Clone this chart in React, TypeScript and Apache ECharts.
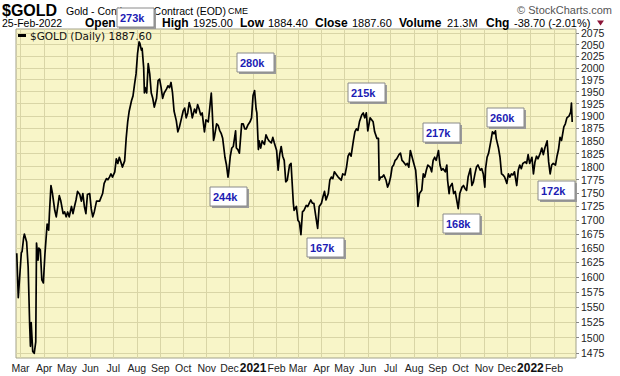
import React, { useEffect, useRef } from "react";
import * as echarts from "echarts";

// ---- data ----
const gold2020: [string, number][] = [
  ["2020-02-25", 1641], ["2020-02-27", 1565], ["2020-03-02", 1642], ["2020-03-03", 1644],
  ["2020-03-05", 1668], ["2020-03-06", 1675], ["2020-03-09", 1661], ["2020-03-11", 1617],
  ["2020-03-13", 1520], ["2020-03-14", 1486], ["2020-03-15", 1524], ["2020-03-17", 1478],
  ["2020-03-19", 1475], ["2020-03-21", 1493], ["2020-03-22", 1659], ["2020-03-24", 1629],
  ["2020-03-25", 1650], ["2020-03-27", 1647], ["2020-03-29", 1595], ["2020-03-31", 1590],
  ["2020-04-02", 1638], ["2020-04-04", 1675], ["2020-04-05", 1693], ["2020-04-07", 1682],
  ["2020-04-08", 1712], ["2020-04-10", 1764], ["2020-04-12", 1749], ["2020-04-15", 1718],
  ["2020-04-17", 1706], ["2020-04-19", 1725], ["2020-04-21", 1745], ["2020-04-23", 1735],
  ["2020-04-26", 1712], ["2020-04-28", 1715], ["2020-04-30", 1706], ["2020-05-02", 1715],
  ["2020-05-04", 1706], ["2020-05-07", 1725], ["2020-05-09", 1712], ["2020-05-11", 1725],
  ["2020-05-13", 1737], ["2020-05-15", 1753], ["2020-05-18", 1747], ["2020-05-20", 1735],
  ["2020-05-22", 1749], ["2020-05-24", 1725], ["2020-05-26", 1712], ["2020-05-28", 1747],
  ["2020-05-31", 1749], ["2020-06-02", 1721], ["2020-06-04", 1706], ["2020-06-06", 1715],
  ["2020-06-09", 1735], ["2020-06-13", 1735], ["2020-06-17", 1749], ["2020-06-19", 1768],
  ["2020-06-22", 1777], ["2020-06-24", 1775], ["2020-06-26", 1780], ["2020-06-28", 1786],
  ["2020-06-30", 1780], ["2020-07-03", 1790], ["2020-07-05", 1815], ["2020-07-07", 1806],
  ["2020-07-09", 1818], ["2020-07-11", 1809], ["2020-07-13", 1799], ["2020-07-16", 1811],
  ["2020-07-18", 1855], ["2020-07-20", 1888], ["2020-07-22", 1910], ["2020-07-25", 1931],
  ["2020-07-27", 1941], ["2020-07-29", 1965], ["2020-07-31", 1987], ["2020-08-02", 2031],
  ["2020-08-04", 2056], ["2020-08-05", 2053], ["2020-08-07", 2038], ["2020-08-08", 2042],
  ["2020-08-10", 2001], ["2020-08-11", 1947], ["2020-08-12", 1958], ["2020-08-14", 1947],
  ["2020-08-16", 2009], ["2020-08-18", 1987], ["2020-08-20", 1947], ["2020-08-22", 1936],
  ["2020-08-24", 1918], ["2020-08-27", 1936], ["2020-08-29", 1973], ["2020-08-31", 1976],
  ["2020-09-02", 1958], ["2020-09-04", 1936], ["2020-09-06", 1947], ["2020-09-09", 1955],
  ["2020-09-11", 1962], ["2020-09-13", 1958], ["2020-09-15", 1969], ["2020-09-17", 1947],
  ["2020-09-19", 1910], ["2020-09-22", 1890], ["2020-09-24", 1868], ["2020-09-26", 1877],
  ["2020-09-28", 1890], ["2020-10-01", 1910], ["2020-10-03", 1916], ["2020-10-05", 1896],
  ["2020-10-07", 1906], ["2020-10-09", 1927], ["2020-10-11", 1916], ["2020-10-13", 1896],
  ["2020-10-16", 1914], ["2020-10-18", 1906], ["2020-10-20", 1923], ["2020-10-22", 1914],
  ["2020-10-24", 1902], ["2020-10-26", 1906], ["2020-10-29", 1868], ["2020-10-31", 1892],
  ["2020-11-03", 1888], ["2020-11-05", 1916], ["2020-11-07", 1947], ["2020-11-08", 1918],
  ["2020-11-10", 1851], ["2020-11-11", 1857], ["2020-11-14", 1884], ["2020-11-16", 1881],
  ["2020-11-18", 1871], ["2020-11-20", 1865], ["2020-11-22", 1855], ["2020-11-25", 1818],
  ["2020-11-27", 1803], ["2020-11-29", 1780], ["2020-11-30", 1790], ["2020-12-02", 1820],
  ["2020-12-04", 1836], ["2020-12-06", 1839], ["2020-12-09", 1870], ["2020-12-10", 1836],
  ["2020-12-12", 1833], ["2020-12-14", 1826], ["2020-12-17", 1884], ["2020-12-19", 1884],
  ["2020-12-21", 1874], ["2020-12-23", 1874], ["2020-12-25", 1881], ["2020-12-28", 1888],
  ["2020-12-30", 1896],
];

const gold2021: [string, number][] = [
  ["2021-01-01", 1942], ["2021-01-03", 1952], ["2021-01-05", 1914], ["2021-01-06", 1906],
  ["2021-01-08", 1833], ["2021-01-09", 1850], ["2021-01-11", 1836], ["2021-01-13", 1850],
  ["2021-01-16", 1843], ["2021-01-18", 1862], ["2021-01-20", 1855], ["2021-01-22", 1850],
  ["2021-01-25", 1846], ["2021-01-27", 1857], ["2021-01-29", 1846], ["2021-02-01", 1831],
  ["2021-02-03", 1793], ["2021-02-05", 1823], ["2021-02-07", 1839], ["2021-02-09", 1820],
  ["2021-02-11", 1812], ["2021-02-13", 1771], ["2021-02-15", 1774], ["2021-02-18", 1803],
  ["2021-02-20", 1806], ["2021-02-21", 1780], ["2021-02-23", 1731], ["2021-02-24", 1718],
  ["2021-02-27", 1725], ["2021-03-01", 1700], ["2021-03-03", 1696], ["2021-03-05", 1674],
  ["2021-03-07", 1715], ["2021-03-09", 1718], ["2021-03-12", 1727], ["2021-03-14", 1725],
  ["2021-03-16", 1731], ["2021-03-18", 1737], ["2021-03-20", 1731], ["2021-03-22", 1731],
  ["2021-03-25", 1703], ["2021-03-27", 1685], ["2021-03-29", 1725], ["2021-04-01", 1731],
  ["2021-04-03", 1743], ["2021-04-05", 1753], ["2021-04-07", 1737], ["2021-04-10", 1749],
  ["2021-04-12", 1774], ["2021-04-14", 1780], ["2021-04-16", 1777], ["2021-04-18", 1790],
  ["2021-04-21", 1784], ["2021-04-23", 1780], ["2021-04-25", 1777], ["2021-04-27", 1774],
  ["2021-04-29", 1786], ["2021-05-02", 1784], ["2021-05-04", 1799], ["2021-05-06", 1820],
  ["2021-05-08", 1826], ["2021-05-10", 1820], ["2021-05-13", 1850], ["2021-05-15", 1868],
  ["2021-05-17", 1874], ["2021-05-19", 1871], ["2021-05-21", 1888], ["2021-05-24", 1902],
  ["2021-05-26", 1906], ["2021-05-28", 1896], ["2021-05-30", 1906], ["2021-06-01", 1870],
  ["2021-06-04", 1896], ["2021-06-06", 1892], ["2021-06-08", 1888], ["2021-06-10", 1868],
  ["2021-06-13", 1855], ["2021-06-15", 1855], ["2021-06-16", 1774], ["2021-06-18", 1780],
  ["2021-06-20", 1780], ["2021-06-22", 1784], ["2021-06-25", 1774], ["2021-06-27", 1761],
  ["2021-06-29", 1768], ["2021-07-01", 1780], ["2021-07-03", 1799], ["2021-07-05", 1803],
  ["2021-07-07", 1812], ["2021-07-09", 1815], ["2021-07-12", 1823], ["2021-07-14", 1826],
  ["2021-07-16", 1812], ["2021-07-18", 1809], ["2021-07-21", 1803], ["2021-07-23", 1806],
  ["2021-07-25", 1799], ["2021-07-27", 1831], ["2021-07-29", 1820], ["2021-07-31", 1809],
  ["2021-08-03", 1793], ["2021-08-05", 1755], ["2021-08-06", 1725], ["2021-08-08", 1749],
  ["2021-08-11", 1755], ["2021-08-13", 1786], ["2021-08-15", 1780], ["2021-08-17", 1793],
  ["2021-08-19", 1803], ["2021-08-22", 1799], ["2021-08-24", 1790], ["2021-08-26", 1812],
  ["2021-08-28", 1818], ["2021-08-30", 1812], ["2021-09-02", 1831], ["2021-09-04", 1803],
  ["2021-09-06", 1793], ["2021-09-08", 1796], ["2021-09-11", 1790], ["2021-09-13", 1803],
  ["2021-09-14", 1774], ["2021-09-16", 1749], ["2021-09-17", 1761], ["2021-09-20", 1768],
  ["2021-09-22", 1749], ["2021-09-24", 1753], ["2021-09-26", 1737], ["2021-09-28", 1721],
  ["2021-09-30", 1749], ["2021-10-03", 1761], ["2021-10-05", 1764], ["2021-10-07", 1758],
  ["2021-10-09", 1755], ["2021-10-11", 1780], ["2021-10-14", 1796], ["2021-10-16", 1764],
  ["2021-10-18", 1771], ["2021-10-20", 1786], ["2021-10-22", 1799], ["2021-10-24", 1803],
  ["2021-10-27", 1793], ["2021-10-29", 1796], ["2021-10-31", 1786], ["2021-11-02", 1761],
  ["2021-11-03", 1796], ["2021-11-05", 1818], ["2021-11-07", 1826], ["2021-11-10", 1850],
  ["2021-11-12", 1868], ["2021-11-14", 1864], ["2021-11-16", 1870], ["2021-11-17", 1855],
  ["2021-11-20", 1836], ["2021-11-22", 1818], ["2021-11-24", 1786], ["2021-11-26", 1784],
  ["2021-11-28", 1780], ["2021-12-01", 1768], ["2021-12-03", 1786], ["2021-12-05", 1780],
  ["2021-12-07", 1786], ["2021-12-09", 1784], ["2021-12-11", 1790], ["2021-12-14", 1764],
  ["2021-12-16", 1793], ["2021-12-18", 1803], ["2021-12-20", 1796], ["2021-12-22", 1806],
  ["2021-12-25", 1809], ["2021-12-27", 1806], ["2021-12-29", 1823], ["2021-12-31", 1806],
];

const gold2022: [string, number][] = [
  ["2022-01-03", 1818], ["2022-01-05", 1786], ["2022-01-07", 1809], ["2022-01-09", 1820],
  ["2022-01-11", 1815], ["2022-01-14", 1826], ["2022-01-16", 1836], ["2022-01-18", 1823],
  ["2022-01-20", 1836], ["2022-01-23", 1850], ["2022-01-25", 1809], ["2022-01-27", 1786],
  ["2022-01-29", 1803], ["2022-01-31", 1806], ["2022-02-03", 1803], ["2022-02-05", 1820],
  ["2022-02-07", 1833], ["2022-02-09", 1857], ["2022-02-11", 1851], ["2022-02-14", 1878],
  ["2022-02-16", 1884], ["2022-02-18", 1896], ["2022-02-21", 1900], ["2022-02-23", 1908],
  ["2022-02-24", 1926], ["2022-02-25", 1887.6],
];

const yTickValues = [
  1475, 1500, 1525, 1550, 1575, 1600, 1625, 1650, 1675, 1700, 1725, 1750, 1775,
  1800, 1825, 1850, 1875, 1900, 1925, 1950, 1975, 2000, 2025, 2050, 2075,
];
const monthTicks = [
  "2020-03-01", "2020-04-01", "2020-05-01", "2020-06-01", "2020-07-01", "2020-08-01",
  "2020-09-01", "2020-10-01", "2020-11-01", "2020-12-01", "2021-01-01", "2021-02-01",
  "2021-03-01", "2021-04-01", "2021-05-01", "2021-06-01", "2021-07-01", "2021-08-01",
  "2021-09-01", "2021-10-01", "2021-11-01", "2021-12-01", "2022-01-01", "2022-02-01",
];
const monthNames = ["Jan", "Feb", "Mar", "Apr", "May", "Jun", "Jul", "Aug", "Sep", "Oct", "Nov", "Dec"];
const xStart = "2020-02-24";
const xEnd = "2022-03-02";

const seriesName = "$GOLD";
const headerDate = "25-Feb-2022";
const highValue = "1925.00";
const lowValue = "1884.40";
const closeValue = "1887.60";
const volumeValue = "21.3M";
const chgValue = "-38.70 (-2.01%)";
const volumeLabels = ["273k", "280k", "244k", "167k", "215k", "217k", "168k", "260k", "172k"];

const AF = '"Liberation Sans", Arial, sans-serif';
const ts = (s: string) => Date.parse(s + "T00:00:00Z");

export default function App() {
  const ref = useRef<HTMLDivElement>(null);
  useEffect(() => {
    if (!ref.current) return;
    const chart = echarts.init(ref.current, undefined, { renderer: "svg" });
    const data = [...gold2020, ...gold2021, ...gold2022].map(([d, v]) => [ts(d), v]);
    const monthValues = monthTicks.map(ts);

    // volume boxes: [x, y] top-left in pixels
    const boxPos: [number, number][] = [
      [117, 8], [237, 53], [210, 187], [307, 238], [348, 83], [423, 123], [443, 214], [487, 108], [538, 181],
    ];
    const boxes: any[] = [];
    volumeLabels.forEach((lbl, i) => {
      const [bx, by] = boxPos[i];
      boxes.push({
        type: "rect", z: 100, shape: { x: bx + 2, y: by + 2, width: 37, height: 19 },
        style: { fill: "#9a9a9a" }, silent: true,
      });
      boxes.push({
        type: "rect", z: 101, shape: { x: bx, y: by, width: 37, height: 19 },
        style: { fill: "#ffffff", stroke: "#8a8a8a", lineWidth: 1 }, silent: true,
      });
      boxes.push({
        type: "text", z: 102, x: bx + 3, y: by + 10,
        style: { text: lbl, font: `bold 11px ${AF}`, fill: "#1c1cb4", align: "left", verticalAlign: "middle", textAlign: "left", textVerticalAlign: "middle" },
        silent: true,
      });
    });

    const txt = (x: number, y: number, text: string, font: string, fill = "#000", align = "left") => ({
      type: "text", x, y, z: 50, silent: true,
      style: { text, font, fill, align, verticalAlign: "middle", textAlign: align, textVerticalAlign: "middle" },
    });

    const header = [
      txt(2, 10, seriesName, `bold 16px ${AF}`),
      txt(66, 10.5, "Gold - Continuous Contract (EOD)", `10.5px ${AF}`),
      txt(228, 10.5, "CME", `9px ${AF}`),
      txt(612, 10, "\u00a9 StockCharts.com", `11px ${AF}`, "#555", "right"),
      txt(2, 23, headerDate, `10.5px ${AF}`),
      txt(85, 23, "Open", `bold 12px ${AF}`),
      txt(162, 23, "High", `bold 12px ${AF}`),
      txt(193, 23, highValue, `11px ${AF}`),
      txt(240, 23, "Low", `bold 12px ${AF}`),
      txt(268, 23, lowValue, `11px ${AF}`),
      txt(315, 23, "Close", `bold 12px ${AF}`),
      txt(352, 23, closeValue, `11px ${AF}`),
      txt(399, 23, "Volume", `bold 12px ${AF}`),
      txt(447, 23, volumeValue, `11px ${AF}`),
      txt(486, 23, "Chg", `bold 12px ${AF}`),
      txt(514, 23, chgValue, `11px ${AF}`),
      {
        type: "polygon", z: 50, silent: true,
        shape: { points: [[597, 20.5], [604, 20.5], [600.5, 25.5]] },
        style: { fill: "#8b1538" },
      },
    ];

    const option: any = {
      animation: false,
      backgroundColor: "#ffffff",
      grid: {
        left: 16, right: 44, top: 29, bottom: 18, show: true,
        backgroundColor: "#F8F5C8", borderColor: "#a3a28a", borderWidth: 1,
        outerBoundsMode: "none", containLabel: false,
      },
      legend: {
        left: 18, top: 30, padding: 0, icon: "rect", itemWidth: 8, itemHeight: 3, itemGap: 0,
        data: [{ name: seriesName, itemStyle: { color: "#000" } }],
        formatter: (n: string) => `${n} (Daily) ${closeValue}`,
        textStyle: { fontFamily: '"DejaVu Sans", Verdana, sans-serif', fontSize: 10.5, color: "#111", padding: [1, 0, 0, -1] },
      },
      xAxis: {
        type: "value",
        min: ts(xStart),
        max: ts(xEnd),
        axisLine: { show: false },
        axisTick: { show: false, customValues: monthValues },
        axisLabel: {
          customValues: monthValues,
          hideOverlap: false,
          showMinLabel: true,
          showMaxLabel: true,
          margin: 4,
          fontFamily: AF, fontSize: 10.5, color: "#222",
          formatter: (v: number) => {
            const d = new Date(v);
            return d.getUTCMonth() === 0 ? `{yr|${d.getUTCFullYear()}}` : monthNames[d.getUTCMonth()];
          },
          rich: { yr: { fontFamily: AF, fontSize: 12, fontWeight: "bold", color: "#111" } },
        },
        splitLine: { show: true, lineStyle: { color: "#d9d5a6", width: 1 } },
      },
      yAxis: {
        type: "log",
        logBase: 10,
        position: "right",
        min: 1467.6,
        max: 2084.5,
        axisLine: { show: false },
        axisTick: { show: true, length: 3, customValues: yTickValues, lineStyle: { color: "#888" } },
        axisLabel: {
          customValues: yTickValues, margin: 5, hideOverlap: false,
          fontFamily: AF, fontSize: 10.5, color: "#222",
          formatter: (v: number) => String(Math.round(v)),
        },
        splitLine: { show: true, lineStyle: { color: "#d9d5a6", width: 1 } },
      },
      series: [
        {
          name: seriesName, type: "line", data, showSymbol: false, symbol: "none",
          lineStyle: { color: "#000", width: 1.7, join: "round" }, z: 5,
        },
      ],
      graphic: [...header, ...boxes],
    };
    chart.setOption(option);
    return () => chart.dispose();
  }, []);
  return <div ref={ref} style={{ width: 620, height: 376, position: "absolute", left: 0, top: 0 }} />;
}
